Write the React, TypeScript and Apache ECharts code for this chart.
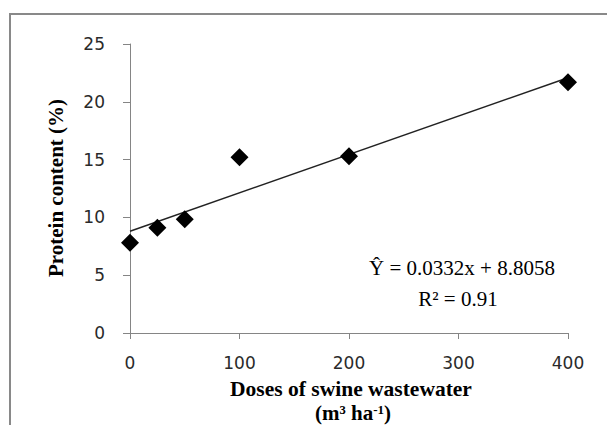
import React, { useEffect, useRef } from "react";
import * as echarts from "echarts";

const doses = [0, 25, 50, 100, 200, 400];
const protein = [7.8, 9.1, 9.85, 15.2, 15.3, 21.7];
const slope = 0.0332;
const intercept = 8.8058;
const trendX = [0, 400];
const xTicks = [0, 100, 200, 300, 400];
const yTicks = [0, 5, 10, 15, 20, 25];
const xTitle1 = "Doses of swine wastewater";
const yTitle = "Protein content (%)";
const eqText = "Ŷ = 0.0332x + 8.8058";
const r2Text = "R² = 0.91";

export default function App() {
  const ref = useRef<HTMLDivElement>(null);
  useEffect(() => {
    if (!ref.current) return;
    const chart = echarts.init(ref.current, null, { renderer: "svg" });
    const serif = "'Liberation Serif', 'Times New Roman', serif";
    const axisColor = "#858585";
    chart.setOption({
      animation: false,
      grid: { left: 130, right: 39, top: 44, bottom: 92 },
      xAxis: {
        type: "value",
        min: xTicks[0],
        max: xTicks[xTicks.length - 1],
        interval: 100,
        axisLine: { show: true, lineStyle: { color: axisColor, width: 1 } },
        axisTick: { show: true, length: 6, lineStyle: { color: axisColor } },
        splitLine: { show: false },
        axisLabel: {
          margin: 21,
          fontFamily: "'DejaVu Sans', Verdana, sans-serif",
          fontSize: 17,
          color: "#2a2a2a",
        },
      },
      yAxis: {
        type: "value",
        min: yTicks[0],
        max: yTicks[yTicks.length - 1],
        interval: 5,
        axisLine: { show: true, lineStyle: { color: axisColor, width: 1 } },
        axisTick: { show: true, length: 7, lineStyle: { color: axisColor } },
        splitLine: { show: false },
        axisLabel: {
          margin: 25,
          fontFamily: "'DejaVu Sans', Verdana, sans-serif",
          fontSize: 17,
          color: "#2a2a2a",
        },
      },
      graphic: [
        {
          type: "rect",
          shape: { x: 10, y: 14, width: 800, height: 600 },
          style: { fill: "none", stroke: "#898989", lineWidth: 2 },
          silent: true,
        },
        {
          type: "text",
          x: 56,
          y: 188,
          rotation: Math.PI / 2,
          style: {
            text: yTitle,
            fontFamily: serif,
            fontWeight: "bold",
            fontSize: 21,
            fill: "#000",
            align: "center",
            verticalAlign: "middle",
          },
        },
        {
          type: "text",
          x: 351,
          y: 389,
          style: {
            text: xTitle1,
            fontFamily: serif,
            fontWeight: "bold",
            fontSize: 21.5,
            fill: "#000",
            align: "center",
            verticalAlign: "middle",
          },
        },
        {
          type: "text",
          x: 353,
          y: 413,
          style: {
            text: "{a|(m³ ha}{s|-1}{a|)}",
            fontFamily: serif,
            fontWeight: "bold",
            fontSize: 21,
            fill: "#000",
            align: "center",
            verticalAlign: "middle",
            rich: {
              a: { fontFamily: serif, fontWeight: "bold", fontSize: 21, fill: "#000" },
              s: { fontFamily: serif, fontWeight: "bold", fontSize: 13, fill: "#000", verticalAlign: "top", padding: [0, 0, 8, 0] },
            },
          },
        },
        {
          type: "text",
          x: 462,
          y: 268,
          style: {
            text: eqText,
            fontFamily: serif,
            fontSize: 21,
            fill: "#000",
            align: "center",
            verticalAlign: "middle",
          },
        },
        {
          type: "text",
          x: 458,
          y: 299,
          style: {
            text: r2Text,
            fontFamily: serif,
            fontSize: 21,
            fill: "#000",
            align: "center",
            verticalAlign: "middle",
          },
        },
      ],
      series: [
        {
          type: "line",
          data: trendX.map((x) => [x, slope * x + intercept]),
          showSymbol: false,
          symbol: "none",
          lineStyle: { color: "#222", width: 1.5 },
          z: 2,
        },
        {
          type: "scatter",
          data: doses.map((d, i) => [d, protein[i]]),
          symbol: "diamond",
          symbolSize: 18,
          itemStyle: { color: "#000", opacity: 1 },
          z: 3,
        },
      ],
    });
    return () => chart.dispose();
  }, []);
  return (
    <div
      ref={ref}
      style={{ position: "fixed", left: 0, top: 0, width: 607, height: 425, background: "#fff" }}
    />
  );
}
